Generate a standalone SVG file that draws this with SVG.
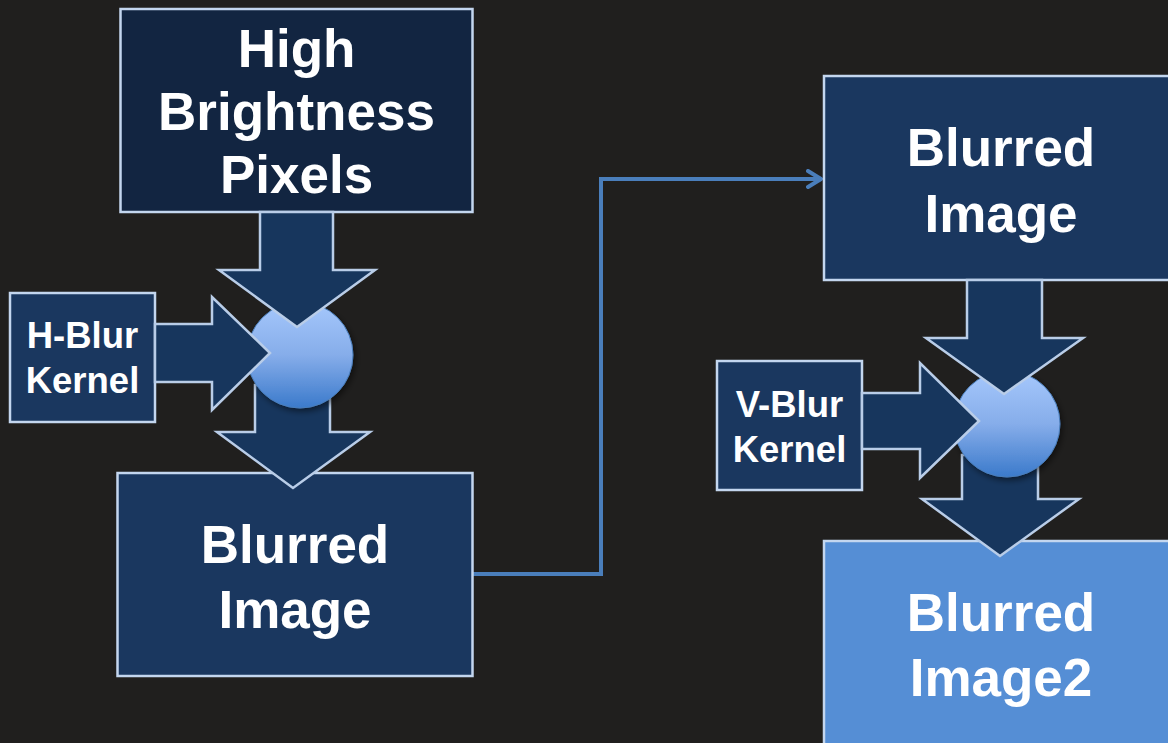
<svg xmlns="http://www.w3.org/2000/svg" width="1168" height="743" viewBox="0 0 1168 743">
<defs>
<style>
.box{stroke:#c3d6ef;stroke-width:2.5}
.dark{fill:#122541}
.mid{fill:#1a375f}
.light{fill:#558ed5}
.arr{fill:#17365d;stroke:#b9cde8;stroke-width:2.5;stroke-linejoin:miter}
.big{font-family:"Liberation Sans",Arial,sans-serif;font-weight:bold;font-size:53px;fill:#ffffff;text-anchor:middle}
.small{font-family:"Liberation Sans",Arial,sans-serif;font-weight:bold;font-size:36.5px;fill:#ffffff;text-anchor:middle}
.conn{fill:none;stroke:#4a7ebb;stroke-width:4}
.ball{fill:url(#ballGrad);stroke:#4a7ebb;stroke-width:1;filter:url(#shadow)}
</style>
<linearGradient id="ballGrad" x1="0" y1="0" x2="0" y2="1">
<stop offset="0" stop-color="#a6c8fc"/>
<stop offset="0.5" stop-color="#86adea"/>
<stop offset="1" stop-color="#3b7acb"/>
</linearGradient>
<filter id="shadow" x="-30%" y="-30%" width="160%" height="160%">
<feGaussianBlur in="SourceAlpha" stdDeviation="3"/>
<feOffset dx="2" dy="3" result="b"/>
<feComponentTransfer><feFuncA type="linear" slope="0.5"/></feComponentTransfer>
<feMerge><feMergeNode/><feMergeNode in="SourceGraphic"/></feMerge>
</filter>
<marker id="openArrow" markerWidth="18" markerHeight="20" refX="15" refY="10" orient="auto" markerUnits="userSpaceOnUse">
<path d="M2,2 L15,10 L2,18" fill="none" stroke="#4a7ebb" stroke-width="4" stroke-linecap="round" stroke-linejoin="round"/>
</marker>
</defs>
<rect x="0" y="0" width="1168" height="743" fill="#201f1e"/>

<g id="connectors">
<path class="conn" d="M473,574 H601 V179 H821" marker-end="url(#openArrow)"/>
</g>

<g id="node-high-brightness">
<rect class="box dark" x="120.5" y="9" width="352" height="203"/>
<text class="big" x="296.5" y="67">High</text>
<text class="big" x="296.5" y="130">Brightness</text>
<text class="big" x="296.5" y="193">Pixels</text>
</g>

<g id="node-hblur-kernel">
<rect class="box mid" x="10" y="293" width="145" height="129"/>
<text class="small" x="82.5" y="348">H-Blur</text>
<text class="small" x="82.5" y="393">Kernel</text>
</g>

<g id="node-blurred-image-1">
<rect class="box mid" x="117.5" y="473" width="355" height="203"/>
<text class="big" x="295" y="563">Blurred</text>
<text class="big" x="295" y="628">Image</text>
</g>

<g id="node-blurred-image-2">
<rect class="box mid" x="824" y="76" width="360" height="204"/>
<text class="big" x="1001" y="166">Blurred</text>
<text class="big" x="1001" y="232">Image</text>
</g>

<g id="node-vblur-kernel">
<rect class="box mid" x="717" y="361" width="145" height="129"/>
<text class="small" x="789.5" y="417">V-Blur</text>
<text class="small" x="789.5" y="462">Kernel</text>
</g>

<g id="node-blurred-image2">
<rect class="box light" x="824" y="541" width="360" height="220"/>
<text class="big" x="1001" y="631">Blurred</text>
<text class="big" x="1001" y="696">Image2</text>
</g>

<g id="node-combine-h">
<path class="arr" d="M255,385 H330 V432 H370 L293,488 L217,432 H255 Z"/>
<circle class="ball" cx="300" cy="355" r="53"/>
<path class="arr" d="M260,212 H333 V270 H375 L297,327 L219,270 H260 Z"/>
<path class="arr" d="M155,324 H212 V297 L270,353 L212,410 V382 H155 Z"/>
</g>

<g id="node-combine-v">
<path class="arr" d="M962,455 H1038 V499 H1079 L1000,556 L922,499 H962 Z"/>
<circle class="ball" cx="1007" cy="424" r="53"/>
<path class="arr" d="M967,280 H1042 V338 H1083 L1004,394 L926,338 H967 Z"/>
<path class="arr" d="M862,393 H920 V363 L979,421 L920,478 V449 H862 Z"/>
</g>
</svg>
